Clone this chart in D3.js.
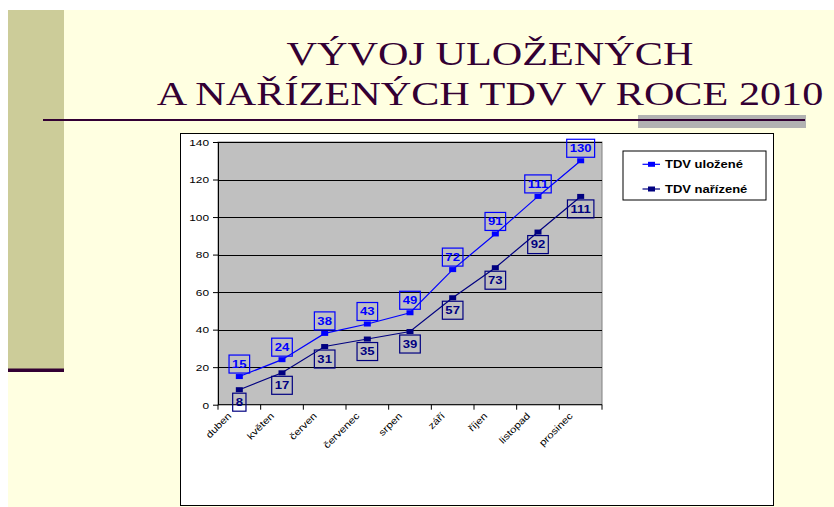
<!DOCTYPE html>
<html>
<head>
<meta charset="utf-8">
<script src="https://cdn.jsdelivr.net/npm/d3@7"></script>
<style>
  body { margin: 0; background: #fff; }
  svg { display: block; }
</style>
</head>
<body>
<svg id="chart"></svg>
<script>
const months = ['duben', 'květen', 'červen', 'červenec', 'srpen', 'září', 'říjen', 'listopad', 'prosinec'];
const ulozene = [15, 24, 38, 43, 49, 72, 91, 111, 130];
const narizene = [8, 17, 31, 35, 39, 57, 73, 92, 111];
const yTicks = [0, 20, 40, 60, 80, 100, 120, 140];
const titleLines = ['VÝVOJ ULOŽENÝCH', 'A NAŘÍZENÝCH TDV V ROCE 2010'];
const seriesNames = ['TDV uložené', 'TDV nařízené'];

// the slide was squeezed into this size, so all text looks wider than tall
const SX = 1.25;
const W = 834, H = 507;
const plot = { left: 218, right: 602, top: 142, bottom: 404.7 };

const series = [
    { name: seriesNames[0], values: ulozene, colour: '#0000ff', above: true },
    { name: seriesNames[1], values: narizene, colour: '#000080', above: false }
];

const svg = d3.select('#chart').attr('width', W).attr('height', H);

function place(sel, x, y, sx) {
    return sel.attr('transform', `translate(${x},${y}) scale(${sx || SX},1)`);
}

// slide background
svg.append('rect').attr('x', 8).attr('y', 10).attr('width', W - 8).attr('height', H - 10).attr('fill', '#ffffe1');
svg.append('rect').attr('x', 8).attr('y', 10).attr('width', 56).attr('height', 359).attr('fill', '#cccc99');
svg.append('rect').attr('x', 8).attr('y', 368.5).attr('width', 56).attr('height', 3.5).attr('fill', '#330033');
svg.append('rect').attr('x', 638).attr('y', 115).attr('width', 168).attr('height', 13).attr('fill', '#b2b2b2');
svg.append('line').attr('x1', 43).attr('x2', 805).attr('y1', 120).attr('y2', 120)
    .attr('stroke', '#330033').attr('stroke-width', 2);

titleLines.forEach((t, i) => {
    place(svg.append('text'), 490, 65 + i * 40, 1.28)
        .attr('text-anchor', 'middle')
        .attr('font-family', '"Liberation Serif", "Times New Roman", serif')
        .attr('font-size', 33)
        .attr('fill', '#330033')
        .text(t);
});

// chart box
svg.append('rect').attr('x', 180.5).attr('y', 133.5).attr('width', 593).attr('height', 372)
    .attr('fill', '#fff').attr('stroke', '#000').attr('stroke-width', 1);

const xScale = d3.scaleBand().domain(months).range([plot.left, plot.right]);
const yScale = d3.scaleLinear().domain([0, 140]).range([plot.bottom, plot.top]);
const cx = m => xScale(m) + xScale.bandwidth() / 2;

svg.append('rect')
    .attr('x', plot.left).attr('y', plot.top)
    .attr('width', plot.right - plot.left).attr('height', plot.bottom - plot.top)
    .attr('fill', '#c0c0c0').attr('stroke', '#808080');

const axisFont = '"Liberation Sans", Arial, sans-serif';

// gridlines
svg.append('g').selectAll('line')
    .data(yTicks.filter(d => d > 0))
    .join('line')
    .attr('x1', plot.left).attr('x2', plot.right)
    .attr('y1', d => Math.round(yScale(d)) + 0.5).attr('y2', d => Math.round(yScale(d)) + 0.5)
    .attr('stroke', '#000');

// y axis
const yAxisG = svg.append('g').attr('transform', `translate(${plot.left},0)`)
    .call(d3.axisLeft(yScale).tickValues(yTicks).tickSize(5).tickPadding(4).tickSizeOuter(0));
yAxisG.selectAll('.domain, line').attr('stroke', '#000');
yAxisG.selectAll('text').each(function(d) {
    const t = d3.select(this);
    t.attr('x', null).attr('dy', null);
    place(t, -9, 3.3).attr('font-family', axisFont).attr('font-size', 9.5).attr('fill', '#000');
});

// x axis, ticks at category boundaries
const xAxisG = svg.append('g').attr('transform', `translate(0,${plot.bottom})`);
xAxisG.append('line').attr('x1', plot.left).attr('x2', plot.right).attr('stroke', '#000');
xAxisG.selectAll('.tick')
    .data(months.concat(['end']))
    .join('line')
    .attr('class', 'tick')
    .attr('x1', (d, i) => i < months.length ? xScale(d) : plot.right)
    .attr('x2', (d, i) => i < months.length ? xScale(d) : plot.right)
    .attr('y1', 0).attr('y2', 5)
    .attr('stroke', '#000');
xAxisG.selectAll('.lbl')
    .data(months)
    .join('text')
    .attr('class', 'lbl')
    .attr('text-anchor', 'end')
    .attr('font-family', axisFont)
    .attr('font-size', 9.5)
    .attr('fill', '#000')
    .attr('dy', '0.7em')
    .attr('transform', d => `translate(${cx(d) - 12},${7}) rotate(-45) scale(1.2,1)`)
    .text(d => d);

// series
const line = d3.line().x((d, i) => cx(months[i])).y(d => yScale(d));
series.forEach(s => {
    const g = svg.append('g');
    g.append('path').datum(s.values)
        .attr('d', line)
        .attr('fill', 'none').attr('stroke', s.colour).attr('stroke-width', 1.2);
    g.selectAll('.m').data(s.values).join('rect')
        .attr('class', 'm')
        .attr('x', (d, i) => cx(months[i]) - 3.5).attr('y', d => yScale(d) - 2.5)
        .attr('width', 7).attr('height', 5)
        .attr('fill', s.colour);

    const lbl = g.selectAll('.lbl').data(s.values).join('g').attr('class', 'lbl');
    lbl.each(function(d, i) {
        const el = d3.select(this);
        const x = cx(months[i]);
        const py = yScale(d);
        const boxH = 18;
        const top = s.above ? py - 3.5 - boxH : py + 3.5;
        const rect = el.append('rect');
        const txt = place(el.append('text'), x, top + boxH / 2 + 3.8)
            .attr('text-anchor', 'middle')
            .attr('font-family', axisFont)
            .attr('font-weight', 'bold')
            .attr('font-size', 10.5)
            .attr('fill', s.colour)
            .text(d);
        const w = txt.node().getComputedTextLength() * SX + 6;
        rect.attr('x', x - w / 2).attr('y', top).attr('width', w).attr('height', boxH)
            .attr('fill', 'none').attr('stroke', s.colour).attr('stroke-width', 1.2);
    });
});

// legend
const legend = svg.append('g');
legend.append('rect').attr('x', 623).attr('y', 151).attr('width', 143).attr('height', 49)
    .attr('fill', '#fff').attr('stroke', '#000');
series.forEach((s, i) => {
    const y = 164.3 + i * 24.7;
    legend.append('line').attr('x1', 642.5).attr('x2', 660).attr('y1', y).attr('y2', y)
        .attr('stroke', s.colour).attr('stroke-width', 1.2);
    legend.append('rect').attr('x', 648).attr('y', y - 2.5).attr('width', 7).attr('height', 5).attr('fill', s.colour);
    place(legend.append('text'), 665, y + 3.7)
        .attr('font-family', axisFont)
        .attr('font-weight', 'bold')
        .attr('font-size', 10.4)
        .attr('fill', '#000')
        .text(s.name);
});
</script>
</body>
</html>
